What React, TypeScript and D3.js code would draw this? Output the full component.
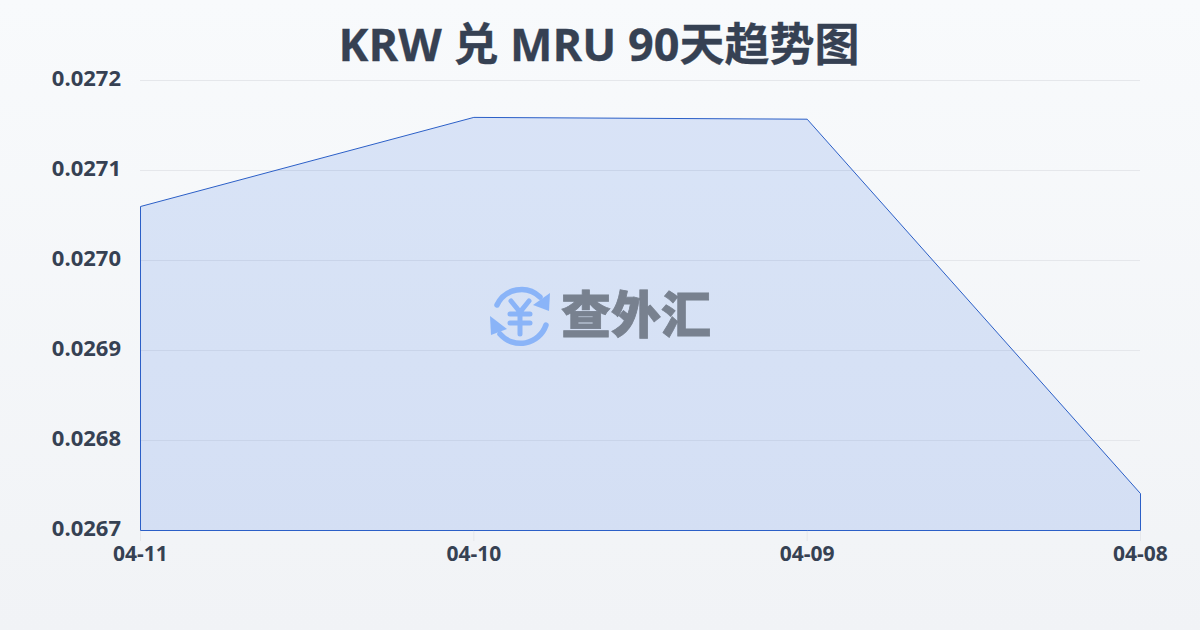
import React from "react";
import * as d3 from "d3";

const dates = ["04-11", "04-10", "04-09", "04-08"];
const rates = [0.02706, 0.027159, 0.027157, 0.026741];
const yTicks = [0.0267, 0.0268, 0.0269, 0.027, 0.0271, 0.0272];
const titleText = "KRW 兑 MRU 90天趋势图";
const watermark = "查外汇";

const W = 1200, H = 630;
const x = d3.scalePoint<string>().domain(dates).range([140.5, 1140.5]);
const y = d3.scaleLinear().domain([0.0267, 0.0272]).range([530.5, 80.5]);
const pts = dates.map((d, i) => ({ d, v: rates[i] }));
const area = d3.area<{ d: string; v: number }>().x(p => x(p.d)!).y0(y(0.0267)).y1(p => y(p.v));
const font = "'Open Sans','Noto Sans CJK SC',sans-serif";
const ink = "#364153";

export default function App() {
  return (
    <svg width={W} height={H} viewBox={`0 0 ${W} ${H}`} style={{ position: "fixed", left: 0, top: 0, display: "block" }}>
      <defs>
        <linearGradient id="bg" x1="0" y1="0" x2="0" y2="1">
          <stop offset="0" stopColor="#f8fafc" />
          <stop offset="1" stopColor="#f1f3f6" />
        </linearGradient>
      </defs>
      <rect width={W} height={H} fill="url(#bg)" />
      <text x={599} y={61} textAnchor="middle" fontFamily={font} fontWeight={700} fontSize={45} stroke={ink} strokeWidth={0.3} fill={ink}>{titleText}</text>
      {yTicks.map(t => (
        <g key={t}>
          <line x1={140} x2={1140} y1={y(t)} y2={y(t)} stroke="#e5e7eb" strokeWidth={1} />
          <text x={121} y={y(t) - 2} dy="0.35em" textAnchor="end" fontFamily={font} fontWeight={700} fontSize={22} fill={ink}>{d3.format(".4f")(t)}</text>
        </g>
      ))}
      <path d={area(pts)!} fill="#2563e0" fillOpacity={0.14} stroke="#2b5fc7" strokeWidth={1} strokeLinejoin="miter" />
      {dates.map(d => (
        <g key={d}>
          <line x1={x(d)} x2={x(d)} y1={531} y2={541} stroke="#e5e7eb" />
          <text x={x(d)} y={561} textAnchor="middle" fontFamily={font} fontWeight={700} fontSize={21} fill={ink}>{d}</text>
        </g>
      ))}
      <g>
        <g fill="none" stroke="#8ab4f8" strokeWidth={5.5} strokeLinecap="round">
          <path d="M497 305 A27 27 0 0 1 540 297" />
          <path d="M546 325 A27 27 0 0 1 500 334" />
          <path d="M511 301 L520 312 L529 301 M510 314 H530 M510 323 H530 M520 312 V334" strokeWidth={5} />
        </g>
        <path d="M550 293 L549 311 L533 305 Z" fill="#8ab4f8" />
        <path d="M490 316 L491 335 L507 329 Z" fill="#8ab4f8" />
        <text x={636} y={333} textAnchor="middle" fontFamily="'Noto Sans CJK SC',sans-serif" fontWeight={900} fontSize={50} stroke="#78818f" strokeWidth={0.8} fill="#78818f">{watermark}</text>
      </g>
    </svg>
  );
}
